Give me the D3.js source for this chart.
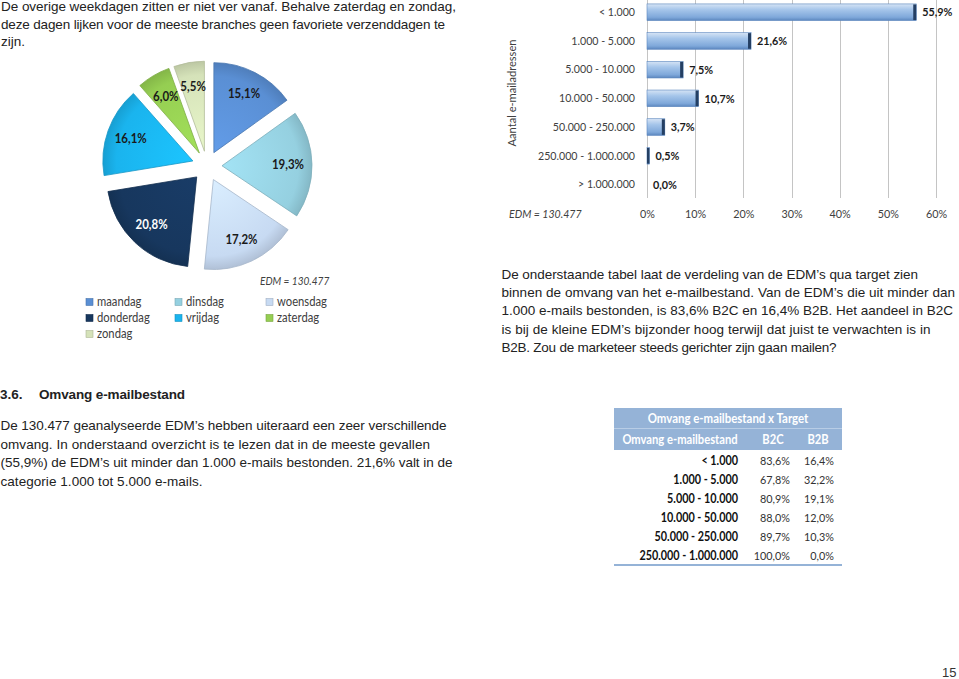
<!DOCTYPE html>
<html><head><meta charset="utf-8">
<script src="https://cdn.jsdelivr.net/npm/d3@7"></script>
<style>html,body{margin:0;padding:0;background:#fff;}svg{display:block;}</style>
</head><body>
<script>
// ---------- data ----------
const days = ["maandag","dinsdag","woensdag","donderdag","vrijdag","zaterdag","zondag"];
const dayShares = [15.1,19.3,17.2,20.8,16.1,6.0,5.5];
const dayLabels = ["15,1%","19,3%","17,2%","20,8%","16,1%","6,0%","5,5%"];
const dayColors = ["#5A8FD4","#95D0E0","#C7DAF2","#17375E","#1AB4EE","#95CE52","#D5E2B9"];
const dayLabelColors = ["#1a1a1a","#1a1a1a","#1a1a1a","#ffffff","#1a1a1a","#1a1a1a","#1a1a1a"];

const sizeCats = ["< 1.000","1.000 - 5.000","5.000 - 10.000","10.000 - 50.000","50.000 - 250.000","250.000 - 1.000.000","> 1.000.000"];
const sizeShares = [55.9,21.6,7.5,10.7,3.7,0.5,0.0];
const sizeLabels = ["55,9%","21,6%","7,5%","10,7%","3,7%","0,5%","0,0%"];
const xTicks = [0,10,20,30,40,50,60];

const tableCats = ["< 1.000","1.000 - 5.000","5.000 - 10.000","10.000 - 50.000","50.000 - 250.000","250.000 - 1.000.000"];
const b2c = ["83,6%","67,8%","80,9%","88,0%","89,7%","100,0%"];
const b2b = ["16,4%","32,2%","19,1%","12,0%","10,3%","0,0%"];

const para1 = ["De overige weekdagen zitten er niet ver vanaf. Behalve zaterdag en zondag,",
  "deze dagen lijken voor de meeste branches geen favoriete verzenddagen te","zijn."];
const para2 = ["De onderstaande tabel laat de verdeling van de EDM\u2019s qua target zien",
  "binnen de omvang van het e-mailbestand. Van de EDM\u2019s die uit minder dan",
  "1.000 e-mails bestonden, is 83,6% B2C en 16,4% B2B. Het aandeel in B2C",
  "is bij de kleine EDM\u2019s bijzonder hoog terwijl dat juist te verwachten is in",
  "B2B. Zou de marketeer steeds gerichter zijn gaan mailen?"];
const para3 = ["De 130.477 geanalyseerde EDM\u2019s hebben uiteraard een zeer verschillende",
  "omvang. In onderstaand overzicht is te lezen dat in de meeste gevallen",
  "(55,9%) de EDM\u2019s uit minder dan 1.000 e-mails bestonden. 21,6% valt in de",
  "categorie 1.000 tot 5.000 e-mails."];

// ---------- svg ----------
const W = 959, H = 679;
const svg = d3.select("body").append("svg").attr("width", W).attr("height", H);
svg.append("rect").attr("width", W).attr("height", H).attr("fill", "#fff");
const defs = svg.append("defs");

const bodyFont = "'Liberation Sans', Arial, Helvetica, sans-serif";
const chartFont = "Lato, 'Open Sans', sans-serif";

// narrow a text horizontally (Calibri-like proportions)
function condense(sel, f) {
  sel.each(function () {
    const w = this.getComputedTextLength();
    if (w > 0) d3.select(this).attr("textLength", w * f).attr("lengthAdjust", "spacingAndGlyphs");
  });
  return sel;
}

function paragraph(lines, x, y0, dy, widths) {
  const g = svg.append("g").attr("font-family", bodyFont).attr("font-size", 13.5).attr("fill", "#222");
  lines.forEach((t, i) => {
    const el = g.append("text").attr("x", x).attr("y", y0 + i * dy).text(t);
    if (widths[i]) el.attr("textLength", widths[i]).attr("lengthAdjust", "spacing");
  });
}
paragraph(para1, 1, 11, 17.6, [455, 444, 0]);
paragraph(para2, 501.5, 278.5, 18.35, [416.5, 453.5, 451.5, 429, 335]);
paragraph(para3, 0.5, 430, 18.6, [446, 429.5, 452, 202]);

// heading
const hg = svg.append("g").attr("font-family", bodyFont).attr("font-size", 13.5).attr("font-weight", "bold").attr("fill", "#222");
hg.append("text").attr("x", 0).attr("y", 399).text("3.6.");
hg.append("text").attr("x", 39).attr("y", 399).attr("textLength", 146).attr("lengthAdjust", "spacing").text("Omvang e-mailbestand");

// page number
svg.append("text").attr("x", 956.5).attr("y", 677).attr("text-anchor", "end")
  .attr("font-family", bodyFont).attr("font-size", 13).attr("fill", "#333").text("15");

// ---------- pie ----------
const cx = 207, cy = 166, R = 90, explode = 15;
const pie = d3.pie().sort(null).value(d => d).startAngle(0).endAngle(2 * Math.PI);
const arcs = pie(dayShares);
const arc = d3.arc().innerRadius(0).outerRadius(R);
const labelArc = d3.arc().innerRadius(66).outerRadius(66);
const pieG = svg.append("g").attr("transform", `translate(${cx},${cy})`);

dayColors.forEach((c, i) => {
  const gr = defs.append("radialGradient").attr("id", "pg" + i)
    .attr("gradientUnits", "userSpaceOnUse").attr("cx", 0).attr("cy", 0).attr("r", R);
  gr.append("stop").attr("offset", "0%").attr("stop-color", d3.color(c).brighter(0.25));
  gr.append("stop").attr("offset", "85%").attr("stop-color", c);
  gr.append("stop").attr("offset", "100%").attr("stop-color", d3.color(c).darker(0.35));
});

arcs.forEach((a, i) => {
  const mid = (a.startAngle + a.endAngle) / 2;
  const dx = Math.sin(mid) * explode, dy = -Math.cos(mid) * explode;
  const g = pieG.append("g").attr("transform", `translate(${dx},${dy})`);
  g.append("path").attr("d", arc(a)).attr("fill", `url(#pg${i})`)
    .attr("stroke", d3.color(dayColors[i]).darker(0.5)).attr("stroke-width", 0.8).attr("stroke-linejoin", "round");
  const [lx, ly] = labelArc.centroid(a);
  g.append("text").attr("x", lx).attr("y", ly).attr("dy", "0.35em").attr("text-anchor", "middle")
    .attr("font-family", chartFont).attr("font-weight", "bold").attr("font-size", 12.5)
    .attr("fill", dayLabelColors[i]).text(dayLabels[i]).call(condense, 0.92);
});

svg.append("text").attr("x", 260).attr("y", 285).attr("font-family", chartFont).attr("font-style", "italic")
  .attr("font-size", 12).attr("fill", "#404040").text("EDM = 130.477").call(condense, 0.84);

// legend
const legCols = [86, 175, 266], legRows = [302, 318, 334];
days.forEach((d, i) => {
  const x = legCols[i % 3], y = legRows[Math.floor(i / 3)];
  svg.append("rect").attr("x", x).attr("y", y - 3.5).attr("width", 7).attr("height", 7)
    .attr("fill", dayColors[i]).attr("stroke", d3.color(dayColors[i]).darker(0.6)).attr("stroke-width", 0.6);
  svg.append("text").attr("x", x + 11).attr("y", y).attr("dy", "0.35em")
    .attr("font-family", chartFont).attr("font-size", 12.5).attr("fill", "#404040").text(d).call(condense, 0.9);
});

// ---------- bar chart ----------
const x = d3.scaleLinear().domain([0, 60]).range([647, 936]);
const y = d3.scaleBand().domain(sizeCats).range([-2.1, 198.8]).paddingInner(0.42).paddingOuter(0.21);
const barG = svg.append("g");
const gridBottom = 198;

barG.selectAll("line.grid").data(xTicks).join("line")
  .attr("x1", d => Math.round(x(d)) + 0.5).attr("x2", d => Math.round(x(d)) + 0.5)
  .attr("y1", 0).attr("y2", gridBottom).attr("stroke", "#C4C4C4").attr("stroke-width", 1);

const xAxis = d3.axisBottom(x).tickValues(xTicks).tickFormat(d => d + "%").tickSize(0).tickPadding(0);
const xAx = barG.append("g").attr("transform", `translate(0,${gridBottom + 11})`).call(xAxis);
xAx.select(".domain").remove();
xAx.selectAll("text").attr("font-family", chartFont).attr("font-size", 12).attr("fill", "#404040").call(condense, 0.9);

const yAxis = d3.axisLeft(y).tickSize(0).tickPadding(0);
const yAx = barG.append("g").attr("transform", "translate(635,0)").call(yAxis);
yAx.select(".domain").remove();
yAx.selectAll("text").attr("font-family", chartFont).attr("font-size", 11.8).attr("fill", "#404040").call(condense, 0.9);

const bgrad = defs.append("linearGradient").attr("id", "barGrad").attr("x1", 0).attr("y1", 0).attr("x2", 0).attr("y2", 1);
bgrad.append("stop").attr("offset", "0%").attr("stop-color", "#D6E4F5");
bgrad.append("stop").attr("offset", "35%").attr("stop-color", "#A5C5EA");
bgrad.append("stop").attr("offset", "80%").attr("stop-color", "#7FA8DA");
bgrad.append("stop").attr("offset", "100%").attr("stop-color", "#5B86BE");

barG.selectAll("rect.bar").data(sizeShares).join("rect")
  .attr("x", x(0)).attr("y", (d, i) => y(sizeCats[i])).attr("width", d => x(d) - x(0))
  .attr("height", y.bandwidth()).attr("fill", "url(#barGrad)")
  .attr("stroke", "#5B86BE").attr("stroke-width", d => d > 0 ? 0.6 : 0);

barG.selectAll("rect.cap").data(sizeShares.filter(d => d > 0)).join("rect")
  .attr("x", d => x(d) - Math.min(3, x(d) - x(0))).attr("y", (d, i) => y(sizeCats[i]) + 0.5)
  .attr("width", d => Math.min(3, x(d) - x(0))).attr("height", y.bandwidth() - 1)
  .attr("fill", "#243F63");

barG.selectAll("text.val").data(sizeShares).join("text")
  .attr("x", d => x(d) + 6).attr("y", (d, i) => y(sizeCats[i]) + y.bandwidth() / 2).attr("dy", "0.35em")
  .attr("font-family", chartFont).attr("font-weight", "bold").attr("font-size", 12).attr("fill", "#1a1a1a")
  .text((d, i) => sizeLabels[i]).call(condense, 0.9);

svg.append("text").attr("transform", "translate(516,93) rotate(-90)").attr("text-anchor", "middle")
  .attr("font-family", chartFont).attr("font-size", 12.3).attr("fill", "#404040").text("Aantal e-mailadressen").call(condense, 0.9);
svg.append("text").attr("x", 509).attr("y", 214).attr("dy", "0.35em").attr("font-family", chartFont)
  .attr("font-style", "italic").attr("font-size", 12).attr("fill", "#404040").text("EDM = 130.477").call(condense, 0.88);

// ---------- table ----------
const tX0 = 614, tX1 = 842;
const tg = svg.append("g").attr("font-family", chartFont);
tg.append("rect").attr("x", tX0).attr("y", 408).attr("width", tX1 - tX0).attr("height", 42).attr("fill", "#95B3D7");
tg.append("line").attr("x1", tX0).attr("x2", tX1).attr("y1", 428.5).attr("y2", 428.5).attr("stroke", "#B8CDE6").attr("stroke-width", 1);
tg.append("text").attr("x", (tX0 + tX1) / 2).attr("y", 418.5).attr("dy", "0.35em").attr("text-anchor", "middle")
  .attr("font-weight", "bold").attr("font-size", 12.3).attr("fill", "#fff").text("Omvang e-mailbestand x Target").call(condense, 0.93);
tg.append("text").attr("x", 680).attr("y", 439.5).attr("dy", "0.35em").attr("text-anchor", "middle")
  .attr("font-weight", "bold").attr("font-size", 12.3).attr("fill", "#fff").text("Omvang e-mailbestand").call(condense, 0.91);
tg.append("text").attr("x", 773).attr("y", 439.5).attr("dy", "0.35em").attr("text-anchor", "middle")
  .attr("font-weight", "bold").attr("font-size", 12.3).attr("fill", "#fff").text("B2C").call(condense, 0.91);
tg.append("text").attr("x", 818).attr("y", 439.5).attr("dy", "0.35em").attr("text-anchor", "middle")
  .attr("font-weight", "bold").attr("font-size", 12.3).attr("fill", "#fff").text("B2B").call(condense, 0.91);

const ty = d3.scaleBand().domain(tableCats).range([451, 565]);
tableCats.forEach((c, i) => {
  const yc = ty(c) + ty.bandwidth() / 2;
  tg.append("text").attr("x", 738).attr("y", yc).attr("dy", "0.35em").attr("text-anchor", "end")
    .attr("font-weight", "bold").attr("font-size", 12.3).attr("fill", "#111").text(c).call(condense, 0.88);
  tg.append("text").attr("x", 790).attr("y", yc).attr("dy", "0.35em").attr("text-anchor", "end")
    .attr("font-size", 12.3).attr("fill", "#333").text(b2c[i]).call(condense, 0.88);
  tg.append("text").attr("x", 834).attr("y", yc).attr("dy", "0.35em").attr("text-anchor", "end")
    .attr("font-size", 12.3).attr("fill", "#333").text(b2b[i]).call(condense, 0.88);
});
tg.append("line").attr("x1", tX0).attr("x2", tX1).attr("y1", 565).attr("y2", 565).attr("stroke", "#95B3D7").attr("stroke-width", 2);
</script>
</body></html>
